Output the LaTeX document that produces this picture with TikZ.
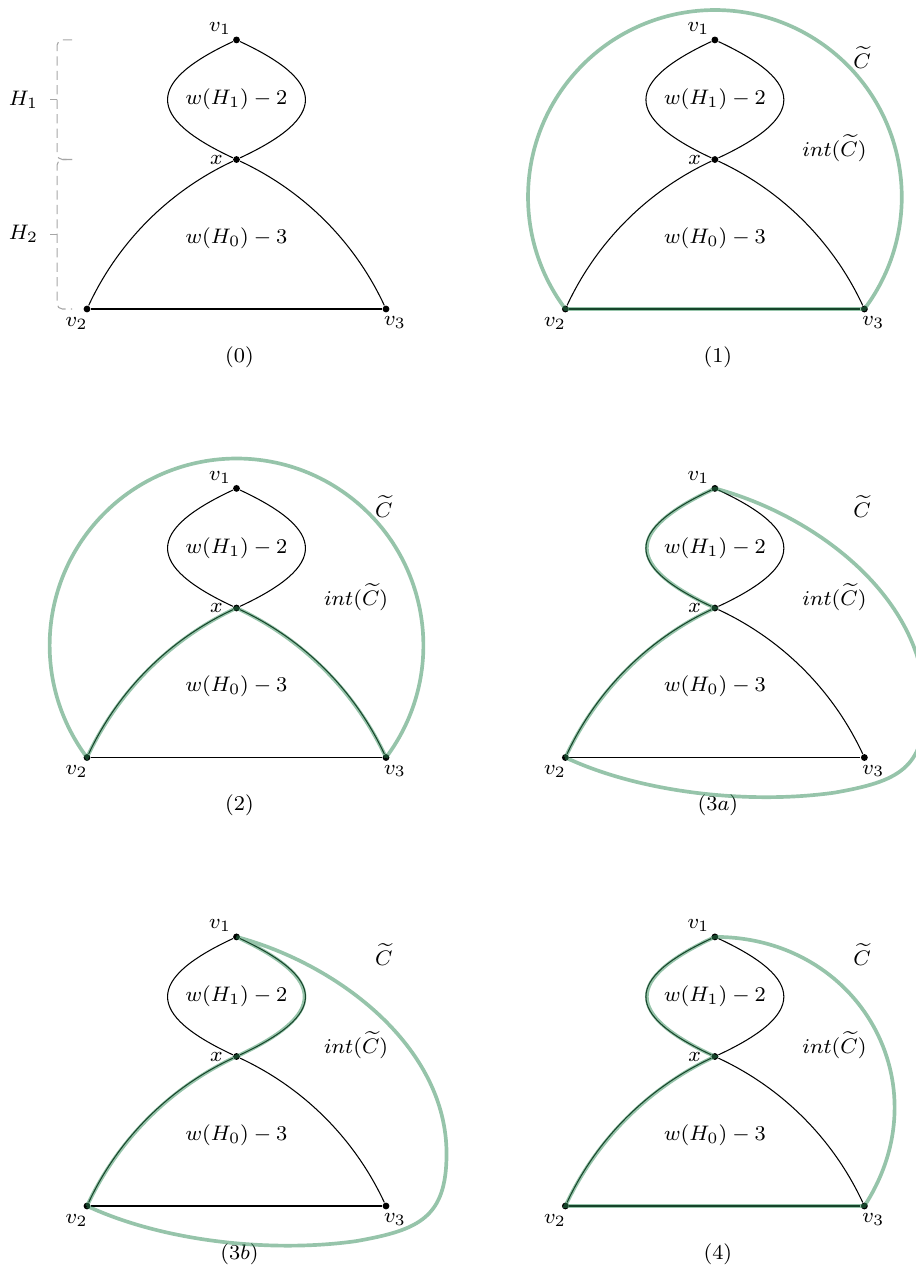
\documentclass[tikz,border=0pt]{standalone}
\definecolor{cycgreen}{RGB}{45,137,85}
\tikzset{
  vtx/.style={circle,fill=black,inner sep=0pt,minimum size=2.6pt},
  lbl/.style={font=\fontsize{8.3}{10}\selectfont,inner sep=1pt},
  cyc/.style={draw=cycgreen,draw opacity=0.5,line width=1.4pt},
  hzero/.style={looseness=0.88},
  hbrk/.style={draw=black!35,dash pattern=on 3.5pt off 2pt,rounded corners=2pt}
}
% graph of H_0 and H_1, #1 = caption
\newcommand{\basegraph}[1]{%
  \node[vtx] (v1) at (0,3.6) {};
  \node[vtx] (x)  at (0,2) {};
  \node[vtx] (v2) at (-2,0) {};
  \node[vtx] (v3) at (2,0) {};
  \node[lbl] (l1) at (-0.22,3.75) {$v_1$};
  \node[lbl] (lx) at (-0.27,2.0) {$x$};
  \node[lbl] (l2) at (-2.14,-0.19) {$v_2$};
  \node[lbl] (l3) at (2.12,-0.18) {$v_3$};
  \node[lbl] (w1) at (0,2.8) {$w(H_1)-2$};
  \node[lbl] (w0) at (0,0.95) {$w(H_0)-3$};
  \node[lbl] (cap) at (0.04,-0.64) {#1};
  \draw (v2) -- (v3);
  \draw[hzero] (v2) to[out=65,in=205] (x) to[out=-25,in=115] (v3);
  \draw (x) .. controls (1.214,2.566) and (1.214,3.034) .. (v1)
    .. controls (-1.214,3.034) and (-1.214,2.566) .. (x);
}
% labels of the cycle
\newcommand{\cyclabels}{%
  \node[lbl] (ct) at (1.97,3.36) {$\widetilde{C}$};
  \node[lbl] (ic) at (1.6,2.15) {$int(\widetilde{C})$};
}
% outer part of the cycle, v1 round to v2
\newcommand{\outerpart}{%
  to[out=-15,in=90,looseness=0.9] (o2)
  to[out=-90,in=10,looseness=1.3] (o3) to[out=188,in=-25,looseness=0.8] (v2.center)}
\begin{document}
\begin{tikzpicture}
  \useasboundingbox (-3.164,-12.843) rectangle (9.09,4.134);
  % (0)
  \begin{scope}
    \basegraph{$(0)$}
    \draw[hbrk] (-2.2,3.6) -| (-2.4,2.0) -- (-2.2,2.0);
    \draw[hbrk] (-2.2,2.0) -| (-2.4,0) -- (-2.2,0);
    \draw[hbrk] (-2.4,2.8) -- (-2.5,2.8);
    \draw[hbrk] (-2.4,1.0) -- (-2.5,1.0);
    \node[lbl] (h1) at (-2.85,2.8) {$H_1$};
    \node[lbl] (h2) at (-2.85,1.0) {$H_2$};
  \end{scope}
  % (1)
  \begin{scope}[shift={(6.4,0)}]
    \basegraph{$(1)$}
    \cyclabels
    \draw[cyc] (v3.center) arc[start angle=-36.87,end angle=216.87,radius=2.5] -- cycle;
  \end{scope}
  % (2)
  \begin{scope}[shift={(0,-6)}]
    \basegraph{$(2)$}
    \cyclabels
    \draw[cyc] (v3.center) arc[start angle=-36.87,end angle=216.87,radius=2.5]
      to[hzero,out=65,in=205] (x.center) to[hzero,out=-25,in=115] (v3.center);
  \end{scope}
  % (3a)
  \begin{scope}[shift={(6.4,-6)}]
    \basegraph{$(3a)$}
    \cyclabels
    \coordinate (o2) at (2.81,0.7);
    \coordinate (o3) at (1.6,-0.47);
    \draw[cyc] (v2.center) to[hzero,out=65,in=205] (x.center)
      .. controls (-1.214,2.566) and (-1.214,3.034) .. (v1.center) \outerpart;
  \end{scope}
  % (3b)
  \begin{scope}[shift={(0,-12)}]
    \basegraph{$(3b)$}
    \cyclabels
    \coordinate (o2) at (2.81,0.7);
    \coordinate (o3) at (1.6,-0.47);
    \draw[cyc] (v2.center) to[hzero,out=65,in=205] (x.center)
      .. controls (1.214,2.566) and (1.214,3.034) .. (v1.center) \outerpart;
  \end{scope}
  % (4)
  \begin{scope}[shift={(6.4,-12)}]
    \basegraph{$(4)$}
    \cyclabels
    \draw[cyc] (v2.center) to[hzero,out=65,in=205] (x.center)
      .. controls (-1.214,2.566) and (-1.214,3.034) .. (v1.center)
      to[out=0,in=57,looseness=1.2] (v3.center) -- cycle;
  \end{scope}
\end{tikzpicture}
\end{document}
